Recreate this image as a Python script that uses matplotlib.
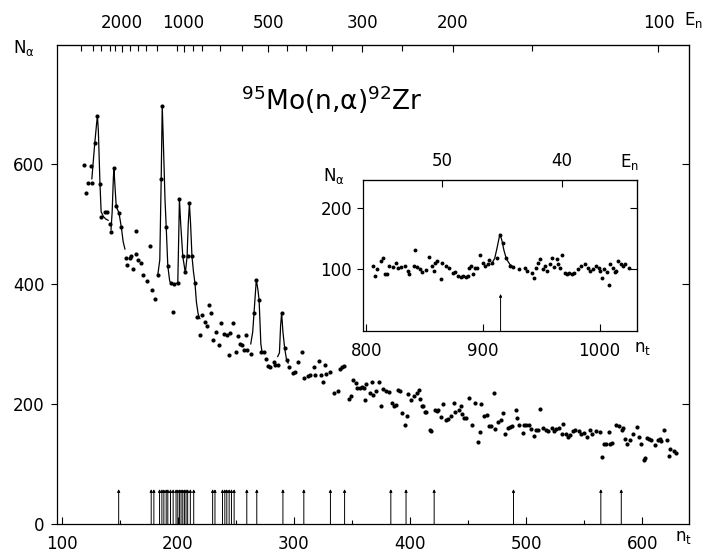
import matplotlib
matplotlib.use("Agg")
from matplotlib import pyplot as plt

plt.rcParams['font.family'] = 'DejaVu Sans'
plt.rcParams['mathtext.default'] = 'regular'

# main spectrum: channel n_t and counts N_alpha
main_n = [119.4, 120.8, 123, 125, 126, 128.5, 130.8, 133, 134, 137.7, 139.4, 141.4, 142.8, 145, 147,
          149.4, 151.4, 155.7, 156.6, 158.5, 160, 161.5, 163.7, 164, 166, 168, 170, 173.4, 175.7,
          177.7, 180, 182.8, 185.7, 186.6, 190, 191.4, 194, 196, 197, 200, 201.4, 204.3, 206.5,
          208.5, 210, 212.2, 214.8, 216.5, 219, 220.8, 223.4, 225, 227, 229, 230.5, 233, 235.7, 237,
          239.7, 242, 244, 245, 247.6, 250, 252, 253.6, 255.5, 257, 259, 260, 262.8, 265.6, 267.6,
          270, 272, 274, 275.7, 278, 279.7, 282.8, 284, 286, 289.4, 292, 294, 296, 299.4, 301,
          303.6, 306.5, 309, 311.8, 314, 317, 318, 321.4, 323.5, 325, 327, 328, 331, 334.8, 338,
          339.4, 341, 343, 347, 349, 351, 353, 354, 357, 358.5, 360, 361, 362, 365.6, 367, 368, 371,
          373, 375, 377, 379, 382, 384, 386, 388, 390, 391.5, 392.7, 395.6, 397.7, 398.5, 401, 403,
          405.6, 408, 408.5, 410, 411, 413, 414, 417, 418, 421, 423, 424, 426.5, 428.4, 431, 432.5,
          435, 437.6, 439, 442, 443.6, 445, 446.5, 448, 451, 453.6, 455.7, 458.5, 460, 461, 464,
          466, 468, 470, 472, 473, 476, 478, 480, 482, 484, 486, 488, 491, 492, 494, 497, 498, 500,
          502, 504, 507, 508, 510, 512, 514, 517, 519, 522, 524, 526, 528, 531, 532, 534, 536, 538,
          540, 542, 545, 547, 550, 552, 555, 557, 560, 563.6, 565.6, 567, 569, 571, 572, 574, 577.6,
          580, 582, 583, 585, 587, 589, 592, 595.6, 597, 599, 601, 602, 604, 605.5, 607, 610.7, 613,
          615, 616, 619, 621, 622.7, 624, 627, 629]
main_N = [598, 551, 568, 597, 568, 634, 679, 567, 511, 520, 520, 500, 486, 593, 529,
          518, 494, 443, 432, 443, 447, 425, 488, 450, 440, 435, 414, 405, 463,
          389, 374, 415, 574, 697, 494, 430, 401, 353, 399, 402, 541, 446, 420,
          446, 534, 446, 401, 344, 315, 348, 337, 329, 365, 351, 306, 320, 298, 334,
          316, 315, 282, 318, 334, 286, 313, 300, 298, 290, 315, 290, 283, 351, 407,
          373, 287, 287, 275, 263, 262, 270, 265, 265, 352, 293, 273, 262, 252, 254,
          270, 287, 244, 246, 248, 261, 249, 272, 248, 236, 265, 250, 254, 219, 222,
          259, 261, 263, 209, 213, 240, 235, 226, 227, 228, 227, 206, 234, 218, 236, 215, 221,
          236, 196, 225, 222, 220, 202, 197, 199, 224, 222, 185, 165, 180, 217, 207, 213,
          218, 223, 209, 197, 196, 186, 187, 157, 155, 190, 189, 190, 178, 200, 173, 175,
          180, 202, 187, 190, 196, 184, 177, 177, 210, 165, 201, 137, 154, 200, 180,
          182, 163, 163, 218, 159, 170, 173, 185, 150, 160, 162, 163, 190, 177, 165, 152, 165, 165,
          165, 158, 146, 157, 157, 192, 160, 157, 155, 160, 155, 158, 160, 150, 167, 150, 145, 148,
          155, 156, 155, 150, 152, 145, 157, 150, 155, 154, 111, 134, 134, 154, 134, 135, 165,
          163, 156, 160, 141, 134, 140, 150, 161, 145, 134, 107, 110, 143, 141, 140, 132, 140,
          142, 139, 157, 140, 113, 125, 122, 118]

# fitted resonance curves
fit1_n = [126, 128.5, 130, 130.8, 131.6, 133, 134, 136, 138, 140]
fit1_N = [575, 634, 665, 680, 655, 567, 520, 512, 508, 506]
fit2_n = [142.5, 143.5, 144.5, 145, 146, 147, 149.4, 151.4, 153, 154.5]
fit2_N = [490, 520, 575, 593, 560, 529, 518, 494, 470, 458]
fit3_n = [182.8, 184.5, 185.7, 186.6, 187.5, 189, 190, 191.4, 193, 194, 197, 200, 200.8, 201.4,
          202.5, 204.3, 206.5, 208, 209, 210, 211, 212.2, 213.5, 214.8, 216, 217.5, 219]
fit3_N = [415, 440, 574, 697, 640, 540, 496, 430, 405, 401, 399, 402, 480, 541,
          500, 446, 418, 446, 500, 534, 500, 446, 420, 401, 370, 350, 342]
fit4_n = [262.8, 264.5, 265.6, 267.6, 269, 270, 271.5, 272.5, 274]
fit4_N = [300, 320, 351, 407, 390, 373, 300, 287, 287]
fit5_n = [286, 287.5, 288.5, 289.4, 290.5, 292, 293.5, 295]
fit5_N = [279, 285, 330, 352, 320, 293, 275, 268]

# resonance positions marked with arrows
arrow_n = [149.1, 177.1, 179.4, 184.3, 186.3, 188, 190, 191.4, 193.7, 196, 198.5, 200, 201.4,
           202.8, 204.3, 205.7, 207.1, 208.5, 210.8, 213.7, 230, 232, 238.5, 240.5, 242.2, 244.2,
           246.2, 248.5, 259.4, 268, 290.5, 308.5, 331.4, 343.6, 383.4, 396.5, 420.7, 489,
           564.2, 581.8]

# neutron energy scale on top (positions in n_t)
top_major_n = [151.6, 205, 278, 359, 436.5, 613.8]
top_labels = ["2000", "1000", "500", "300", "200", "100"]
top_minor_n = [117, 126.7, 133.6, 141.3, 145.6, 158.5, 165.4, 173, 181.8, 199, 212.7, 220.5,
               236, 255, 293.6, 310.8, 333, 392.6, 505]

# inset
ins_n = [805.7, 807, 809, 812.7, 814, 815.7, 818, 819.5, 823, 825, 827, 830, 833, 836, 836.5,
         840.7, 842, 843, 845.5, 848, 850.8, 853.7, 856.5, 858, 859, 860.6, 863.6, 865, 868,
         871, 874, 876, 878.8, 881, 883, 885, 887, 888, 890, 891, 893, 895, 897.5, 900, 902,
         904, 905, 908, 912, 914.4, 917, 920, 923, 926, 931, 936, 938, 942, 944, 945, 947, 949,
         951, 953, 955, 957, 959, 961, 963, 964.5, 966, 968, 970, 972, 974, 976, 978, 981, 984,
         987, 990, 992, 994, 997, 999, 1000, 1002, 1004, 1006, 1008, 1009, 1011, 1013, 1014,
         1016, 1018, 1020, 1022, 1025]
ins_N = [105, 89, 100, 114, 119, 92, 92, 106, 104, 111, 103, 104, 106, 97, 92,
         106, 132, 104, 100, 95, 99, 120, 106, 97, 111, 114, 84, 111, 106,
         103, 94, 95, 89, 88, 90, 88, 89, 103, 106, 92, 103, 103, 124, 111, 106,
         108, 116, 110, 119, 155, 143, 119, 106, 104, 100, 103, 97, 94, 86, 102, 111, 117,
         100, 106, 97, 108, 119, 104, 117, 109, 103, 124, 94, 92, 94, 92, 94, 100, 106,
         109, 103, 97, 100, 106, 103, 97, 86, 100, 95, 75, 109, 103, 95, 97,
         113, 108, 106, 108, 103]
ins_fit_n = [907, 910, 912, 914.4, 916, 918, 920, 923, 926]
ins_fit_N = [108, 118, 135, 157, 148, 130, 117, 108, 104]
ins_arrow_n = [915]
ins_top_n = [865, 967.5]
ins_top_labels = ["50", "40"]

FS = 12

fig = plt.figure(figsize=(7.08, 5.55), dpi=100)
ax = fig.add_axes([0.0805, 0.0559, 0.8925, 0.8631])

ax.plot(main_n, main_N, 'o', color='k', ms=3.0, mew=0)
for fn, fN in [(fit1_n, fit1_N), (fit2_n, fit2_N), (fit3_n, fit3_N), (fit4_n, fit4_N), (fit5_n, fit5_N)]:
    ax.plot(fn, fN, '-', color='k', lw=0.9)
for x in arrow_n:
    ax.annotate('', xy=(x, 58), xytext=(x, 0),
                arrowprops=dict(arrowstyle='-|>', color='k', lw=0.7, mutation_scale=4,
                                shrinkA=0, shrinkB=0))

ax.set_xlim(96, 640)
ax.set_ylim(0, 798)
ax.set_xticks([100, 200, 300, 400, 500, 600])
ax.set_xticks([150, 250, 350, 450, 550], minor=True)
ax.set_yticks([0, 200, 400, 600])
ax.tick_params(axis='x', which='both', direction='in', labelsize=FS, pad=8, length=5, width=0.8)
ax.tick_params(axis='x', which='minor', length=3)
ax.tick_params(axis='y', direction='out', labelsize=FS, length=4, width=0.8, pad=5)
for s in ax.spines.values():
    s.set_linewidth(0.9)

right = ax.secondary_yaxis('right')
right.set_yticks([200, 400, 600], labels=[])
right.tick_params(direction='in', length=5, width=0.8)

top = ax.secondary_xaxis('top')
top.set_xticks(top_major_n, labels=top_labels)
top.set_xticks(top_minor_n, minor=True)
top.tick_params(which='both', direction='in', length=5, width=0.8, labelsize=FS, pad=9)
top.tick_params(which='minor', length=4)

ax.text(0.435, 0.885, r"$^{95}$Mo(n,$\alpha$)$^{92}$Zr", transform=ax.transAxes,
        ha='center', va='center', fontsize=19)
fig.text(24 / 708, 1 - 48 / 555, r"N$_\alpha$", ha='center', va='center', fontsize=FS)
fig.text(694 / 708, 1 - 20 / 555, r"E$_n$", ha='center', va='center', fontsize=FS)
fig.text(684 / 708, 1 - 537 / 555, r"n$_t$", ha='center', va='center', fontsize=FS)

# inset
ins = fig.add_axes([0.5127, 0.4036, 0.387, 0.2721])
ins.plot(ins_n, ins_N, 'o', color='k', ms=2.8, mew=0)
ins.plot(ins_fit_n, ins_fit_N, '-', color='k', lw=0.9)
for x in ins_arrow_n:
    ins.annotate('', xy=(x, 60), xytext=(x, 0),
                 arrowprops=dict(arrowstyle='-|>', color='k', lw=0.7, mutation_scale=4,
                                 shrinkA=0, shrinkB=0))
ins.set_xlim(797, 1032)
ins.set_ylim(0, 245)
ins.set_xticks([800, 900, 1000])
ins.set_yticks([100, 200])
ins.tick_params(axis='x', direction='in', labelsize=FS, pad=8, length=5, width=0.8)
ins.tick_params(axis='y', direction='out', labelsize=FS, length=4, width=0.8, pad=4)
for s in ins.spines.values():
    s.set_linewidth(0.9)
ins_r = ins.secondary_yaxis('right')
ins_r.set_yticks([100, 200], labels=[])
ins_r.tick_params(direction='in', length=5, width=0.8)
ins_t = ins.secondary_xaxis('top')
ins_t.set_xticks(ins_top_n, labels=ins_top_labels)
ins_t.tick_params(direction='in', length=5, width=0.8, labelsize=FS, pad=7)
fig.text(334 / 708, 1 - 176 / 555, r"N$_\alpha$", ha='center', va='center', fontsize=FS)
fig.text(630 / 708, 1 - 162 / 555, r"E$_n$", ha='center', va='center', fontsize=FS)
fig.text(643 / 708, 1 - 348 / 555, r"n$_t$", ha='center', va='center', fontsize=FS)

fig.savefig("out.png", dpi=100)
